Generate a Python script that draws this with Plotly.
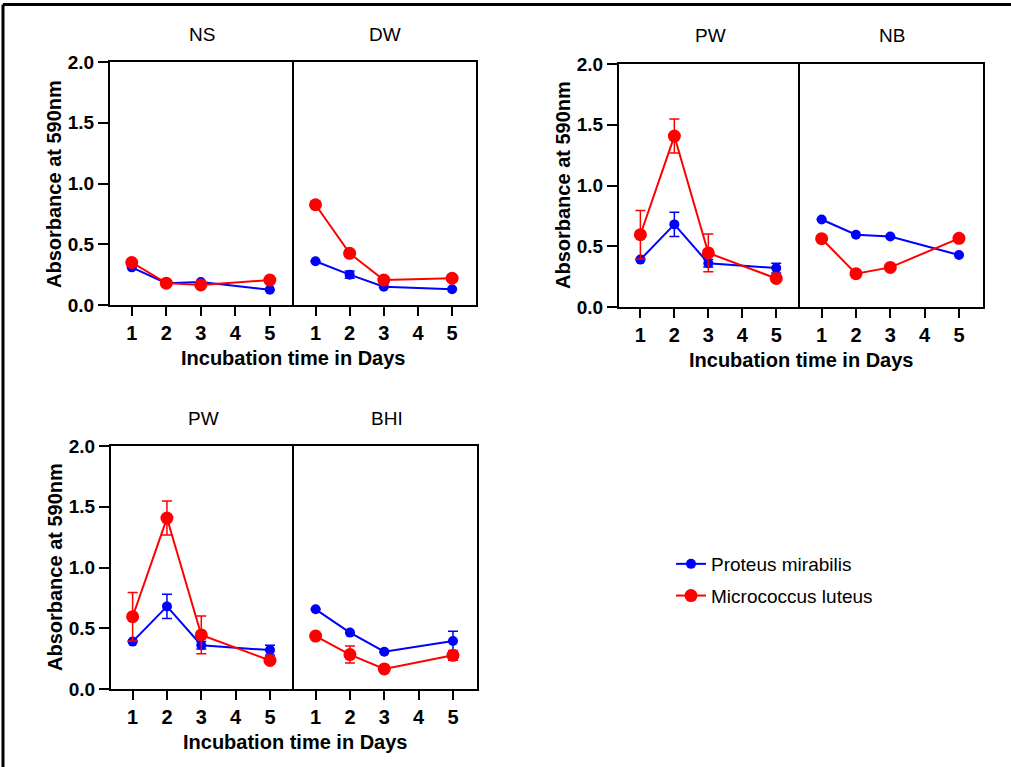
import plotly.graph_objects as go

# ---------------- data ----------------
days = [1, 2, 3, 5]
x_ticks = [1, 2, 3, 4, 5]
y_ticks = [0, 0.5, 1.0, 1.5, 2.0]
panel_titles = ["NS", "DW", "PW", "NB", "PW", "BHI"]
series_names = ["Proteus mirabilis", "Micrococcus luteus"]

ns_proteus = [0.31, 0.18, 0.19, 0.125]
ns_proteus_err = [None, None, None, None]
ns_micro = [0.35, 0.18, 0.165, 0.205]
ns_micro_err = [None, None, None, None]

dw_proteus = [0.36, 0.25, 0.15, 0.13]
dw_proteus_err = [None, 0.03, None, None]
dw_micro = [0.825, 0.425, 0.205, 0.22]
dw_micro_err = [0.02, 0.03, None, None]

pw_proteus = [0.39, 0.68, 0.36, 0.32]
pw_proteus_err = [None, 0.10, 0.03, 0.04]
pw_micro = [0.595, 1.407, 0.445, 0.235]
pw_micro_err = [0.20, 0.14, 0.155, None]

nb_proteus = [0.72, 0.595, 0.58, 0.428]
nb_proteus_err = [None, None, None, None]
nb_micro = [0.562, 0.274, 0.326, 0.565]
nb_micro_err = [None, None, None, None]

bhi_proteus = [0.656, 0.464, 0.307, 0.395]
bhi_proteus_err = [None, None, None, 0.08]
bhi_micro = [0.436, 0.283, 0.165, 0.277]
bhi_micro_err = [None, 0.07, None, 0.04]

panel_proteus = [ns_proteus, dw_proteus, pw_proteus, nb_proteus, pw_proteus, bhi_proteus]
panel_proteus_err = [ns_proteus_err, dw_proteus_err, pw_proteus_err, nb_proteus_err, pw_proteus_err, bhi_proteus_err]
panel_micro = [ns_micro, dw_micro, pw_micro, nb_micro, pw_micro, bhi_micro]
panel_micro_err = [ns_micro_err, dw_micro_err, pw_micro_err, nb_micro_err, pw_micro_err, bhi_micro_err]

# ---------------- layout geometry (pixels) ----------------
W, H = 1011, 767
FONT = "Arial, Liberation Sans, sans-serif"
BLUE = "#0000ff"
RED = "#ff0000"

# (left, right, top, bottom) of each panel in pixels
boxes = [
    (110, 294, 62, 305),
    (294, 476, 62, 305),
    (619, 800, 64, 307),
    (800, 983, 64, 307),
    (111, 294, 446, 689),
    (294, 477, 446, 689),
]


def xdom(l, r):
    return [l / W, r / W]


def ydom(t, b):
    return [1 - b / H, 1 - t / H]


fig = go.Figure()

for i in range(6):
    ax = "" if i == 0 else str(i + 1)
    for name, vals, errs, color, size in [
        (series_names[0], panel_proteus[i], panel_proteus_err[i], BLUE, 10),
        (series_names[1], panel_micro[i], panel_micro_err[i], RED, 13),
    ]:
        fig.add_trace(go.Scatter(
            x=days, y=vals,
            mode="lines+markers",
            name=name,
            legendgroup=name,
            showlegend=(i == 0),
            line=dict(color=color, width=2),
            marker=dict(color=color, size=size),
            error_y=dict(type="data", array=errs, visible=True,
                         color=color, thickness=1.5, width=5),
            xaxis="x" + ax, yaxis="y" + ax,
            cliponaxis=False,
        ))

layout = dict(
    width=W, height=H,
    margin=dict(l=0, r=0, t=0, b=0, pad=0, autoexpand=False),
    paper_bgcolor="white", plot_bgcolor="white",
    font=dict(family=FONT, color="black", size=19),
    showlegend=True,
    legend=dict(x=671 / W, y=1 - 545 / H, xanchor="left", yanchor="top",
                bgcolor="rgba(0,0,0,0)", font=dict(size=19, family=FONT),
                itemsizing="trace", tracegroupgap=4),
)

for i, (l, r, t, b) in enumerate(boxes):
    ax = "" if i == 0 else str(i + 1)
    left_panel = (i % 2 == 0)
    layout["xaxis" + ax] = dict(
        domain=xdom(l, r), anchor="y" + ax,
        range=[0.37, 5.7], tickvals=x_ticks,
        ticks="outside", ticklen=9, tickwidth=2, tickcolor="black",
        showline=True, linewidth=2, linecolor="black", mirror=True,
        showgrid=False, zeroline=False, automargin=False,
        tickfont=dict(size=20, family=FONT, weight="bold"),
    )
    layout["yaxis" + ax] = dict(
        domain=ydom(t, b), anchor="x" + ax,
        range=[0, 2], tickvals=y_ticks, tickformat=".1f",
        ticks="outside" if left_panel else "", ticklen=10, tickwidth=2, tickcolor="black",
        showticklabels=left_panel,
        showline=True, linewidth=2, linecolor="black",
        mirror=(not left_panel),
        showgrid=False, zeroline=False, automargin=False,
        tickfont=dict(size=19, family=FONT, weight="bold"),
    )

fig.update_layout(**layout)

annotations = []
# panel titles
title_pos = [(202, 35), (385, 35), (710, 36), (892, 36), (203, 418), (387, 418)]
for txt, (px, py) in zip(panel_titles, title_pos):
    annotations.append(dict(text=txt, x=px / W, y=1 - py / H, xref="paper", yref="paper",
                            showarrow=False, xanchor="center", yanchor="middle",
                            font=dict(size=19, family=FONT)))
# axis titles
for px, py in [(293, 358), (801, 360), (295, 742)]:
    annotations.append(dict(text="Incubation time in Days", x=px / W, y=1 - py / H,
                            xref="paper", yref="paper", showarrow=False,
                            xanchor="center", yanchor="middle",
                            font=dict(size=20, family=FONT, weight="bold")))
for px, py in [(54, 184), (563, 185), (55, 567)]:
    annotations.append(dict(text="Absorbance at 590nm", x=px / W, y=1 - py / H,
                            xref="paper", yref="paper", showarrow=False, textangle=-90,
                            xanchor="center", yanchor="middle",
                            font=dict(size=20, family=FONT, weight="bold")))
fig.update_layout(annotations=annotations)

# outer frame (top and left edges)
fig.add_shape(type="line", xref="paper", yref="paper", x0=3 / W, x1=1, y0=1 - 4.5 / H, y1=1 - 4.5 / H,
              line=dict(color="black", width=3))
fig.add_shape(type="line", xref="paper", yref="paper", x0=3 / W, x1=3 / W, y0=0, y1=1 - 4.5 / H,
              line=dict(color="black", width=3))

fig.write_html("out.html")
